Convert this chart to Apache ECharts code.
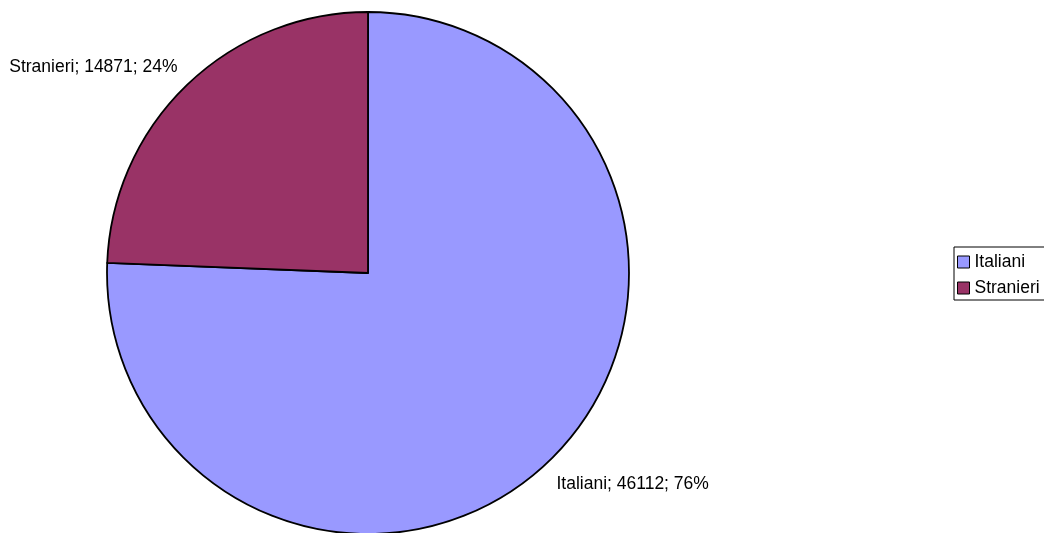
<!DOCTYPE html>
<html>
<head>
<meta charset="utf-8">
<script src="https://cdn.jsdelivr.net/npm/echarts@6/dist/echarts.min.js"></script>
<style>
html,body{margin:0;padding:0;background:#fff;}
#chart{width:1044px;height:533px;}
</style>
</head>
<body>
<div id="chart"></div>
<script>
var categories = ['Italiani', 'Stranieri'];
var values = [46112, 14871];
var colors = ['#9999FF', '#993366'];

var chart = echarts.init(document.getElementById('chart'), null, {renderer: 'canvas'});
var FONT = '"Liberation Sans", Arial, sans-serif';
var data = categories.map(function (c, i) {
  return {name: c, value: values[i], itemStyle: {color: colors[i]}};
});
var labelShift = [[-10, 10], [8, -5]];
chart.setOption({
  animation: false,
  backgroundColor: '#fff',
  legend: {
    orient: 'vertical',
    left: 954,
    top: 247,
    padding: [6, 12, 3, 3],
    borderColor: '#000',
    borderWidth: 1,
    itemWidth: 12,
    itemHeight: 12,
    itemGap: 8,
    itemTextGap: 5,
    icon: 'rect',
    data: categories,
    itemStyle: {borderColor: '#000', borderWidth: 1},
    textStyle: {fontFamily: FONT, fontSize: 17.5, color: '#000'}
  },
  series: [{
    type: 'pie',
    center: [368, 273],
    radius: [0, 261],
    startAngle: 90,
    clockwise: true,
    avoidLabelOverlap: false,
    silent: true,
    data: data,
    itemStyle: {borderColor: '#000', borderWidth: 1.8},
    label: {
      show: true,
      position: 'outside',
      formatter: function (p) { return p.name + '; ' + p.value + '; ' + Math.round(p.percent) + '%'; },
      fontFamily: FONT,
      fontSize: 17.5,
      color: '#000'
    },
    labelLine: {show: false, length: 18, length2: 0},
    labelLayout: function (params) {
      var s = labelShift[params.dataIndex];
      return {dx: s[0], dy: s[1]};
    }
  }]
});
</script>
</body>
</html>
